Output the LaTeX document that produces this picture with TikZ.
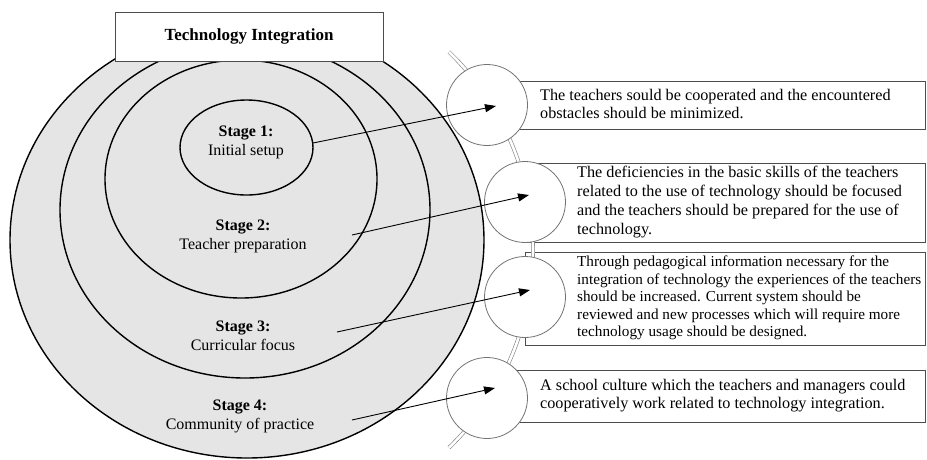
\documentclass[tikz,border=0pt]{standalone}
\usepackage{fontspec}
\setmainfont{Liberation Serif}
\usetikzlibrary{arrows.meta}
\begin{document}
\begin{tikzpicture}[x=1pt,y=-1pt,
  stagering/.style={draw=black,line width=1.4pt},
  stagelabel/.style={align=center,font=\fontsize{16}{19}\selectfont,inner sep=0pt},
  infobox/.style={draw=black!70,line width=0.9pt,fill=white},
  infotext/.style={align=left,anchor=west,inner sep=0pt},
  dot/.style={circle,draw=black!55,line width=0.8pt,fill=white,minimum size=81pt,inner sep=0pt},
  link/.style={-{Triangle[length=11pt,width=8pt]},line width=0.9pt},
  spine/.style={draw=black!50,line width=0.6pt,double=white,double distance=2.6pt}
]
\useasboundingbox (0,0) rectangle (927,459);

% nested stages
\filldraw[stagering,fill=black!10] (247,240) ellipse [x radius=237pt,y radius=218pt];
\draw[stagering] (245,210) ellipse [x radius=185pt,y radius=168pt];
\draw[stagering] (241,179) ellipse [x radius=136pt,y radius=119pt];
\draw[stagering] (246.5,147.5) ellipse [x radius=66.5pt,y radius=47.5pt];

% title
\node[draw=black!70,line width=0.9pt,fill=white,minimum width=268pt,minimum height=49pt,
      inner sep=0pt,font=\bfseries\fontsize{17}{20}\selectfont] (title) at (249,36.5) {Technology Integration};

% text boxes
\node[infobox,minimum width=425pt,minimum height=48pt,inner sep=0pt] (b1) at (712.5,105) {};
\node[infobox,minimum width=400pt,minimum height=79pt,inner sep=0pt] (b2) at (725,202.5) {};
\node[infobox,minimum width=400pt,minimum height=93pt,inner sep=0pt] (b3) at (725,298.5) {};
\node[infobox,minimum width=425pt,minimum height=52pt,inner sep=0pt] (b4) at (712.5,396) {};

% spine arc
\draw[spine] (449,52) arc[start angle=46,end angle=-46,radius=275pt];

% circles
\node[dot] (c1) at (487,105) {};
\node[dot] (c2) at (525,202) {};
\node[dot] (c3) at (525,297) {};
\node[dot] (c4) at (487,398) {};

% texts
\node[infotext,font=\fontsize{16.2}{18}\selectfont] (t1) at (540,104)
  {The teachers sould be cooperated and the encountered\\obstacles should be minimized.};
\node[infotext,font=\fontsize{16.2}{19}\selectfont] (t2) at (577,202)
  {The deficiencies in the basic skills of the teachers\\related to the use of technology should be focused\\and the teachers should be prepared for the use of\\technology.};
\node[infotext,font=\fontsize{15.2}{17.5}\selectfont] (t3) at (577,298)
  {Through pedagogical information necessary for the\\integration of technology the experiences of the teachers\\should be increased. Current system should be\\reviewed and new processes which will require more\\technology usage should be designed.};
\node[infotext,font=\fontsize{16.2}{18}\selectfont] (t4) at (540,396)
  {A school culture which the teachers and managers could\\cooperatively work related to technology integration.};

% stage labels
\node[stagelabel] (s1) at (246,142.5) {\textbf{Stage 1:}\\Initial setup};
\node[stagelabel] (s2) at (243,236) {\textbf{Stage 2:}\\Teacher preparation};
\node[stagelabel] (s3) at (243,336) {\textbf{Stage 3:}\\Curricular focus};
\node[stagelabel] (s4) at (240,416.5) {\textbf{Stage 4:}\\Community of practice};

% arrows
\coordinate (a1) at (313,143);
\coordinate (e1) at (496,106);
\coordinate (a2) at (352,235);
\coordinate (e2) at (529,195);
\coordinate (a3) at (337,332);
\coordinate (e3) at (530,290);
\coordinate (a4) at (352,420);
\coordinate (e4) at (495,388);
\draw[link] (a1) -- (e1);
\draw[link] (a2) -- (e2);
\draw[link] (a3) -- (e3);
\draw[link] (a4) -- (e4);
\end{tikzpicture}
\end{document}
